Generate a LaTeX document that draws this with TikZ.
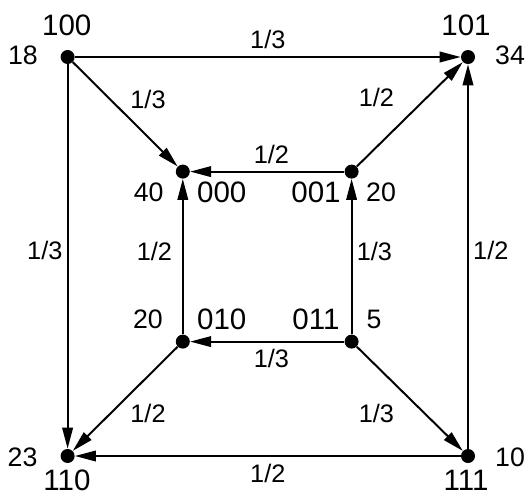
\documentclass[tikz,border=0pt]{standalone}
\usepackage{fontspec}
\setmainfont{Liberation Sans}
\usepackage{tikz}
\usetikzlibrary{arrows.meta, positioning}

\begin{document}
\begin{tikzpicture}[
    dot/.style={circle, fill=black, inner sep=0pt, minimum size=0.35cm},
    state/.style={inner sep=0pt, font=\fontsize{21}{25}\selectfont},
    weight/.style={inner sep=0pt, font=\fontsize{19}{23}\selectfont},
    arr/.style={-{Triangle[length=15pt, width=7.5pt]}, line width=1.4pt},
    prob/.style={font=\fontsize{18}{22}\selectfont, midway, inner sep=3pt}
]
\useasboundingbox (0,0) rectangle (13.25,-12.375);

% states
\node[dot] (n100) at (1.69,-1.425) {};
\node[dot] (n101) at (11.7,-1.425) {};
\node[dot] (n000) at (4.57,-4.29)  {};
\node[dot] (n001) at (8.79,-4.29)  {};
\node[dot] (n010) at (4.57,-8.54)  {};
\node[dot] (n011) at (8.79,-8.54)  {};
\node[dot] (n110) at (1.69,-11.4)  {};
\node[dot] (n111) at (11.7,-11.4)  {};

% state names
\node[state] (t100) at (1.668,-0.638)  {100};
\node[state] (t101) at (11.65,-0.638)  {101};
\node[state] (t000) at (5.543,-4.8)    {000};
\node[state] (t001) at (7.9,-4.8)      {001};
\node[state] (t010) at (5.543,-7.975)  {010};
\node[state] (t011) at (7.9,-7.975)    {011};
\node[state] (t110) at (1.675,-12.0)   {110};
\node[state] (t111) at (11.65,-12.0)   {111};

% weights
\node[weight] (w100) at (0.575,-1.383)  {18};
\node[weight] (w101) at (12.75,-1.375)  {34};
\node[weight] (w000) at (3.718,-4.813)  {40};
\node[weight] (w001) at (9.525,-4.8)    {20};
\node[weight] (w010) at (3.7,-7.988)    {20};
\node[weight] (w011) at (9.35,-7.988)   {5};
\node[weight] (w110) at (0.563,-11.425) {23};
\node[weight] (w111) at (12.75,-11.425) {10};

% transitions
\draw[arr] (n100) -- node[prob,above,inner sep=5pt] (e1) {1/3} (n101);
\draw[arr] (n100) -- node[prob,above right] (e2) {1/3} (n000);
\draw[arr] (n100) -- node[prob,left,yshift=4pt] (e3) {1/3} (n110);
\draw[arr] (n001) -- node[prob,above,inner sep=5pt,xshift=3pt] (e4) {1/2} (n000);
\draw[arr] (n001) -- node[prob,above left,xshift=-7.5pt,yshift=1.5pt] (e5) {1/2} (n101);
\draw[arr] (n011) -- node[prob,right,yshift=4pt] (e6) {1/3} (n001);
\draw[arr] (n111) -- node[prob,right,yshift=4pt] (e7) {1/2} (n101);
\draw[arr] (n010) -- node[prob,left,xshift=-4pt,yshift=4pt] (e8) {1/2} (n000);
\draw[arr] (n011) -- node[prob,below,inner sep=5pt,xshift=3pt] (e9) {1/3} (n010);
\draw[arr] (n010) -- node[prob,below right] (e10) {1/2} (n110);
\draw[arr] (n011) -- node[prob,below left,xshift=-7.5pt] (e11) {1/3} (n111);
\draw[arr] (n111) -- node[prob,below,inner sep=5pt] (e12) {1/2} (n110);
\end{tikzpicture}
\end{document}
